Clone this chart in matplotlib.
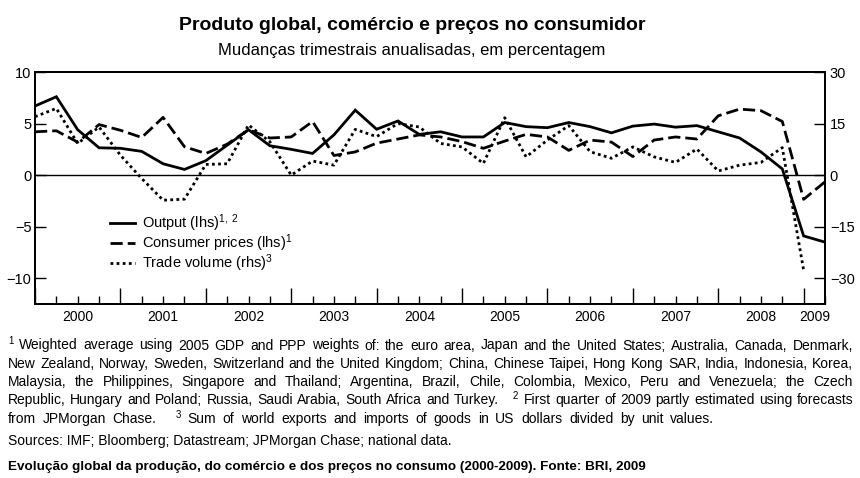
import numpy as np
import matplotlib
matplotlib.use("Agg")
import matplotlib.pyplot as plt
from matplotlib import font_manager as fm

names = {f.name for f in fm.fontManager.ttflist}
NARROW = "Liberation Sans Narrow" if "Liberation Sans Narrow" in names else "Liberation Sans"
REG = "Liberation Sans"

plt.rcParams["font.family"] = [REG, "DejaVu Sans"]
plt.rcParams["mathtext.fontset"] = "custom"
plt.rcParams["mathtext.rm"] = REG
plt.rcParams["mathtext.it"] = REG
plt.rcParams["mathtext.bf"] = REG

# ---------------- data (quarterly, end-1999 Q4 .. 2009 Q1) ----------------
start_year = 2000
years = list(range(2000, 2010))
year_labels = [str(y) for y in years]

output = [6.7, 7.6, 4.4, 2.65, 2.6, 2.3, 1.1, 0.55, 1.4, 2.9, 4.4, 2.85, 2.5, 2.1,
          3.9, 6.3, 4.45, 5.25, 3.95, 4.2, 3.7, 3.7, 5.1, 4.7, 4.6, 5.1, 4.7, 4.1,
          4.75, 4.95, 4.65, 4.8, 4.2, 3.6, 2.25, 0.6, -5.9, -6.5]
consumer_prices = [4.2, 4.3, 3.2, 4.9, 4.35, 3.65, 5.6, 2.75, 2.1, 3.0, 4.4, 3.6, 3.7,
                   5.2, 1.9, 2.25, 3.1, 3.5, 3.9, 3.7, 3.25, 2.6, 3.3, 3.95, 3.7, 2.4,
                   3.4, 3.2, 1.8, 3.4, 3.7, 3.5, 5.75, 6.4, 6.25, 5.2, -2.35, -0.65]
trade_volume = [17, 19.4, 9.2, 14, 5.8, -1, -7.3, -7, 3.1, 3.3, 14.6, 9.7, 0, 4.1, 2.9,
                13.3, 11.2, 15, 14, 9.2, 8.2, 3.4, 16.7, 5.3, 10.2, 14.4, 6.8, 4.9, 8.2,
                5.3, 3.7, 7.6, 1.2, 2.9, 3.7, 8, -27.7, np.nan]

left_ticks = [-10, -5, 0, 5, 10]
right_ticks = [-30, -15, 0, 15, 30]

labels = ["Output (lhs)$^{1,\\ 2}$", "Consumer prices (lhs)$^{1}$", "Trade volume (rhs)$^{3}$"]

title = "Produto global, comércio e preços no consumidor"
subtitle = "Mudanças trimestrais anualisadas, em percentagem"
footnote_lines = [
    [("1", True), "Weighted average using 2005 GDP and PPP weights of: the euro area, Japan and the United States; Australia, Canada, Denmark,"],
    ["New Zealand, Norway, Sweden, Switzerland and the United Kingdom; China, Chinese Taipei, Hong Kong SAR, India, Indonesia, Korea,"],
    ["Malaysia, the Philippines, Singapore and Thailand; Argentina, Brazil, Chile, Colombia, Mexico, Peru and Venezuela; the Czech"],
    ["Republic, Hungary and Poland; Russia, Saudi Arabia, South Africa and Turkey.", ("2", True), "First quarter of 2009 partly estimated using forecasts"],
    ["from JPMorgan Chase.", ("3", True), "Sum of world exports and imports of goods in US dollars divided by unit values."],
]
sources = "Sources: IMF; Bloomberg; Datastream; JPMorgan Chase; national data."
caption = "Evolução global da produção, do comércio e dos preços no consumo (2000-2009). Fonte: BRI, 2009"

# ---------------- figure ----------------
W, H = 860, 478
fig = plt.figure(figsize=(W / 100, H / 100), dpi=100)
ax = fig.add_axes([35 / W, 1 - 304 / H, 790 / W, 232 / H])
ax2 = ax.twinx()

x = start_year + 0.25 * np.arange(len(output))

lw = 2.0
l1, = ax.plot(x, output, color="black", lw=lw, solid_joinstyle="miter")
l2, = ax.plot(x, consumer_prices, color="black", lw=lw, linestyle=(0, (4.4, 1.8)),
              dash_capstyle="butt")
l3, = ax2.plot(x, trade_volume, color="black", lw=lw, linestyle=(0, (1.0, 1.2)),
               dash_capstyle="butt")
ax.axhline(0, color="black", lw=1.0)

ax.set_xlim(start_year, start_year + 0.25 * (len(output) - 1))
ax.set_ylim(-12.5, 10)
ax2.set_ylim(-37.5, 30)

ax.set_yticks(left_ticks)
ax.set_yticklabels([f"{t}".replace("-", "\u2212") for t in left_ticks])
ax2.set_yticks(right_ticks)
ax2.set_yticklabels([f"{t}".replace("-", "\u2212") for t in right_ticks])

ax.set_xticks(years)
ax.set_xticklabels([])
ax.set_xticks(np.arange(start_year, x[-1] + 0.01, 0.25), minor=True)

ax.tick_params(axis="y", direction="in", length=8, width=1, labelsize=10.5, pad=2.5)
ax2.tick_params(axis="y", direction="in", length=8, width=1, labelsize=10.5, pad=3.5)
ax.tick_params(axis="x", which="major", direction="in", length=11.5, width=1)
ax.tick_params(axis="x", which="minor", direction="in", length=5.8, width=1)
ax2.tick_params(axis="x", which="both", bottom=False, top=False)
ax.tick_params(axis="x", top=False)

for a in (ax, ax2):
    for s in a.spines.values():
        s.set_linewidth(1.3)

xmax = ax.get_xlim()[1]
for yr, lab in zip(years, year_labels):
    cx = min(yr + 0.5, (yr + xmax) / 2)
    ax.text(cx, -0.055, lab, transform=ax.get_xaxis_transform(), ha="center",
            va="center", fontsize=10)

leg = ax.legend([l1, l2, l3], labels, loc="upper left",
                bbox_to_anchor=(0.095, 0.395), frameon=False, fontsize=10.5,
                handlelength=1.7, handletextpad=0.5, labelspacing=-0.12,
                borderpad=0, borderaxespad=0)

# ---------------- titles ----------------
fig.text(412 / W, 1 - 25 / H, title, ha="center", va="center", fontsize=14,
         fontweight="bold", family=[NARROW, REG])
fig.text(412 / W, 1 - 50 / H, subtitle, ha="center", va="center", fontsize=12,
         family=[NARROW, REG])

# ---------------- justified footnotes ----------------
fig.canvas.draw()
renderer = fig.canvas.get_renderer()
FS = 10
SUPFS = 7
x0, x1 = 8, 853
last_end = 714
base0, dline = 349.5, 18.3


def tw(s, fs):
    t = fig.text(0, 0, s, fontsize=fs)
    w = t.get_window_extent(renderer).width
    t.remove()
    return w


for li, line in enumerate(footnote_lines):
    tokens = []
    for item in line:
        if isinstance(item, tuple):
            tokens.append((item[0], True))
        else:
            for w_ in item.split(" "):
                tokens.append((w_, False))
    widths = [tw(t, SUPFS if sup else FS) for t, sup in tokens]
    n_norm = 0
    n_before_sup = 0
    n_after_sup = 0
    for k in range(1, len(tokens)):
        if tokens[k][1]:
            n_before_sup += 1
        elif tokens[k - 1][1]:
            n_after_sup += 1
        else:
            n_norm += 1
    after_gap = 6
    end = x1 if li < len(footnote_lines) - 1 else last_end
    g = (end - x0 - sum(widths) - n_after_sup * after_gap) / (n_norm + 3 * n_before_sup)
    yb = base0 + li * dline
    cx = x0
    for k, ((t, sup), w_) in enumerate(zip(tokens, widths)):
        if k > 0:
            if sup:
                cx += 3 * g
            elif tokens[k - 1][1]:
                cx += after_gap
            else:
                cx += g
        if sup:
            fig.text(cx / W, 1 - (yb - 5) / H, t, fontsize=SUPFS, va="baseline", ha="left")
        else:
            fig.text(cx / W, 1 - yb / H, t, fontsize=FS, va="baseline", ha="left")
        cx += w_

fig.text(x0 / W, 1 - 445 / H, sources, fontsize=FS, va="baseline", ha="left")
fig.text(x0 / W, 1 - 470 / H, caption, fontsize=9.7, va="baseline", ha="left",
         fontweight="bold", family=[NARROW, REG])

fig.savefig("out.png", dpi=100)
